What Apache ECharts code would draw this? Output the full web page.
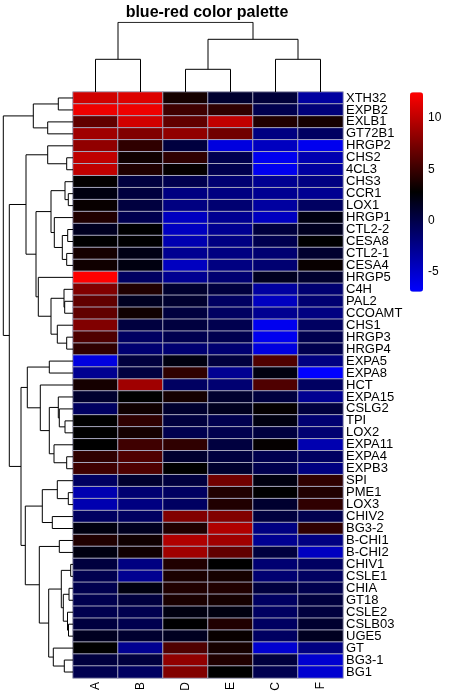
<!DOCTYPE html>
<html><head><meta charset="utf-8">
<script src="https://cdn.jsdelivr.net/npm/echarts@6/dist/echarts.min.js"></script>
<style>html,body{margin:0;padding:0;background:#fff}#c{width:450px;height:700px}</style>
</head><body><div id="c"></div>
<script>
// ---- data ----
const titleText = 'blue-red color palette';
const columns = ['A', 'B', 'D', 'E', 'C', 'F'];
const genes = ['XTH32','EXPB2','EXLB1','GT72B1','HRGP2','CHS2','4CL3','CHS3','CCR1','LOX1',
  'HRGP1','CTL2-2','CESA8','CTL2-1','CESA4','HRGP5','C4H','PAL2','CCOAMT','CHS1',
  'HRGP3','HRGP4','EXPA5','EXPA8','HCT','EXPA15','CSLG2','TPI','LOX2','EXPA11',
  'EXPA4','EXPB3','SPI','PME1','LOX3','CHIV2','BG3-2','B-CHI1','B-CHI2','CHIV1',
  'CSLE1','CHIA','GT18','CSLE2','CSLB03','UGE5','GT','BG3-1','BG1'];
const colA = [10.7,11.9,6.5,8.9,8.3,10.1,10.1,2.9,2.2,3.1,4.0,1.6,2.8,3.6,3.4,12.5,7.7,6.5,6.5,7.7,5.8,4.6,-5.7,-2.7,3.6,1.0,-0.9,2.8,2.8,2.8,4.6,5.2,-0.9,-3.9,-3.9,-0.9,2.2,4.0,2.2,0.4,-0.2,-0.2,-0.2,-0.2,0.4,1.6,2.8,0.4,-0.2];
const colB = [11.2,11.9,10.7,7.7,4.6,3.4,4.0,0.4,0.4,0.4,-0.2,2.8,2.8,2.0,2.2,-0.9,4.0,1.6,3.4,0.4,-0.9,-1.5,0.4,0.4,8.9,2.8,3.4,4.6,3.6,5.2,5.8,5.8,1.0,-1.5,-2.1,-0.9,1.6,3.4,3.4,-2.1,-2.7,2.2,0.4,-0.2,-0.2,1.0,-2.7,0.4,-0.9];
const colD = [3.6,5.2,6.5,8.3,0.4,4.6,3.0,-0.2,-2.1,-2.1,-4.5,-4.5,-3.9,-2.7,-4.5,-2.7,1.0,1.0,0.4,0.4,-0.2,-1.5,2.2,4.6,-0.9,3.6,1.0,0.4,-0.2,4.6,1.0,2.8,0.4,-0.9,-0.9,7.7,4.0,9.5,8.9,4.0,3.8,4.0,3.8,2.2,2.8,1.6,5.8,8.3,7.7];
const colE = [1.0,4.6,10.1,7.1,-5.7,-0.2,-0.2,-1.5,-2.1,-1.5,-2.7,-2.7,-2.1,-2.1,-2.1,-1.5,0.4,-0.9,-0.9,-0.2,-0.2,-1.5,0.4,-2.7,-1.5,1.0,1.6,-0.2,-0.2,0.4,0.4,1.0,7.1,4.0,4.0,7.7,9.5,8.9,6.5,2.8,3.6,4.0,3.6,2.2,4.0,3.1,3.6,4.0,2.8];
const colC = [0.6,-0.2,4.0,-2.1,-4.5,-6.3,-6.3,-2.7,-2.7,-3.3,-4.5,0.4,-0.2,-1.5,-1.5,1.6,-3.3,-4.5,-2.7,-6.3,-6.3,-5.7,5.8,2.2,5.8,0.4,3.0,2.2,0.4,3.0,-0.2,-0.2,2.2,2.8,1.0,0.4,-2.1,-2.7,0.4,-1.5,-1.5,0.4,-0.9,-0.9,-0.9,-0.9,-5.1,0.4,-0.2];
const colF = [-3.3,-1.8,3.6,-0.9,-6.3,-3.9,-3.3,-2.1,-2.7,-0.9,2.2,1.6,2.8,1.0,3.1,1.0,-1.5,-1.5,-2.1,-0.9,-0.2,-0.2,-2.1,-6.9,-0.9,-2.7,0.4,-1.5,-1.5,-3.9,-0.9,-2.1,4.6,4.0,4.6,-0.2,4.6,-2.1,-4.5,-0.9,-0.9,-0.2,0.4,0.4,1.0,1.6,-2.1,-5.1,-5.1];
const valueMin = -6.9;
const valueMax = 12.5;
const colorbarTicks = [-5, 0, 5, 10];
// dendrograms: node = [left, right, mergeHeight]; leaf = index in display order
const colTree = [[0,1,32.7],[[2,3,22.7],[4,5,32.7],52.7],69.7];
const rowTree = [
  [[0,1,14.7],[2,3,25.3],39.7],
  [
    [
      [4,[5,6,6.3],25.3],
      [
        [[7,[8,9,4.7],8],[10,[[11,12,5.3],[13,14,6.3],10.7],18.7],22],
        [15,[[16,[17,18,8.3],9],[19,[20,21,6.3],15.7],22],34.7],
        37],
      47],
    [
      [[22,23,23.7],[24,[[25,[26,[27,28,8],13.7],14.7],[29,[30,31,6.3],19],23.7],32.7],45.7],
      [
        [[32,[33,34,4.7],15.7],[35,36,20.7],30.7],
        [[37,38,13.7],[[[39,40,2.3],[[41,42,4],[43,[44,45,4.5],5.5],9.7],11.7],[46,[47,48,8.7],19.7],24.3],33.7],
        47.7],
      52],
    63.7],
  69.7];

// ---- build ----
const FONT = '"Liberation Sans", Arial, sans-serif';
const columnValues = [colA, colB, colD, colE, colC, colF];
const heatData = [];
columnValues.forEach((arr, j) => arr.forEach((v, i) => heatData.push([j, i, v])));

function segments(node, out) {
  if (typeof node === 'number') return { pos: node, h: 0 };
  const l = segments(node[0], out), r = segments(node[1], out);
  const h = node[2];
  out.push([[l.pos, l.h], [l.pos, h], [r.pos, h], [r.pos, r.h]]);
  return { pos: (l.pos + r.pos) / 2, h: h };
}
const topSegs = []; segments(colTree, topSegs);
const leftSegs = []; segments(rowTree, leftSegs);

const chart = echarts.init(document.getElementById('c'));
chart.setOption({
  animation: false,
  textStyle: { fontFamily: FONT },
  title: {
    text: titleText, left: 207, top: 5, padding: 0, textAlign: 'center',
    textStyle: { fontFamily: FONT, fontWeight: 'bold', fontSize: 16, color: '#000' }
  },
  grid: [
    { left: 73, top: 92, width: 270, height: 586 },
    { left: 73, top: 22.3, width: 270, height: 69.7 },
    { left: 3.3, top: 92, width: 69.7, height: 586 },
    { left: 410, top: 92.3, width: 13, height: 199.4 }
  ],
  xAxis: [
    { gridIndex: 0, type: 'category', data: columns, position: 'bottom',
      axisLine: { show: false }, axisTick: { show: false }, splitLine: { show: false },
      axisLabel: { rotate: 90, margin: 4, fontSize: 12, color: '#000', fontFamily: FONT } },
    { gridIndex: 1, type: 'value', min: -0.5, max: columns.length - 0.5, show: false },
    { gridIndex: 2, type: 'value', min: 0, max: rowTree[2], inverse: true, show: false },
    { gridIndex: 3, type: 'value', min: 0, max: 1, show: false }
  ],
  yAxis: [
    { gridIndex: 0, type: 'category', data: genes, inverse: true, position: 'right',
      axisLine: { show: false }, axisTick: { show: false }, splitLine: { show: false },
      axisLabel: { interval: 0, margin: 3, fontSize: 13, color: '#000', fontFamily: FONT } },
    { gridIndex: 1, type: 'value', min: 0, max: colTree[2], show: false },
    { gridIndex: 2, type: 'value', min: -0.5, max: genes.length - 0.5, inverse: true, show: false },
    { gridIndex: 3, type: 'value', min: valueMin, max: valueMax, position: 'right',
      axisLine: { show: false }, axisTick: { show: false }, splitLine: { show: false },
      axisLabel: { customValues: colorbarTicks, margin: 5, fontSize: 12, color: '#000', fontFamily: FONT } }
  ],
  visualMap: {
    type: 'continuous', min: valueMin, max: valueMax, seriesIndex: 0,
    calculable: false, hoverLink: false, show: true,
    left: 410, top: 92.3, itemWidth: 13, itemHeight: 199.4, padding: 0,
    inRange: { color: ['#0000ff', '#000000', '#ff0000'] }
  },
  series: [
    { type: 'heatmap', xAxisIndex: 0, yAxisIndex: 0, data: heatData, silent: true,
      itemStyle: { borderColor: '#a6a6bd', borderWidth: 1 }, emphasis: { disabled: true } },
    { type: 'lines', coordinateSystem: 'cartesian2d', xAxisIndex: 1, yAxisIndex: 1,
      polyline: true, silent: true,
      data: topSegs.map(c => ({ coords: c })),
      lineStyle: { color: '#000', width: 1, opacity: 1 } },
    { type: 'lines', coordinateSystem: 'cartesian2d', xAxisIndex: 2, yAxisIndex: 2,
      polyline: true, silent: true,
      data: leftSegs.map(c => ({ coords: c.map(p => [p[1], p[0]]) })),
      lineStyle: { color: '#000', width: 1, opacity: 1 } },
    { type: 'scatter', xAxisIndex: 3, yAxisIndex: 3, data: [], silent: true }
  ]
});
</script></body></html>
